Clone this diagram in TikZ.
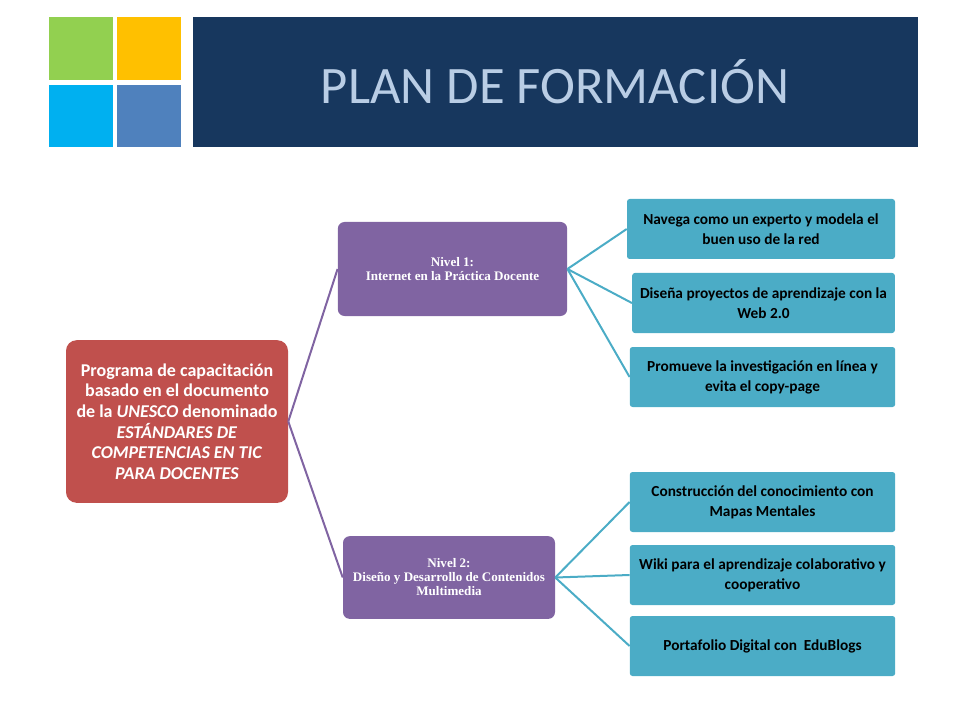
\documentclass[tikz,border=0pt]{standalone}
\usepackage{fontspec}
\setmainfont{Liberation Serif}
\newfontfamily\calib{Carlito}
\newfontfamily\titlefont{Carlito}
\definecolor{navy}{HTML}{17375E}
\definecolor{titletxt}{HTML}{B9CDE5}
\definecolor{redbox}{HTML}{C0504D}
\definecolor{purplebox}{HTML}{8064A2}
\definecolor{bluebox}{HTML}{4BACC6}
\definecolor{sqgreen}{HTML}{92D050}
\definecolor{sqyellow}{HTML}{FFC000}
\definecolor{sqcyan}{HTML}{00B0F0}
\definecolor{sqblue}{HTML}{4F81BD}
\tikzset{
  rootbox/.style={fill=redbox, rounded corners=8pt, text=white, align=center,
    font=\calib\bfseries\fontsize{13.5}{15.5}\selectfont, inner sep=0pt},
  levelbox/.style={fill=purplebox, rounded corners=5pt, text=white, align=center,
    font=\bfseries\fontsize{9.8}{10.5}\selectfont, inner sep=0pt},
  topicbox/.style={fill=bluebox, rounded corners=2pt, text=black, align=center,
    font=\calib\bfseries\fontsize{11.5}{15}\selectfont, inner sep=0pt},
  levelline/.style={draw=purplebox, line width=1.5pt},
  topicline/.style={draw=bluebox, line width=1.5pt},
}
\begin{document}
\begin{tikzpicture}[x=0.75pt,y=-0.75pt]
\useasboundingbox (0,0) rectangle (960,720);
% header
\fill[sqgreen] (49,17) rectangle (113,80);
\fill[sqyellow] (117,17) rectangle (181,80);
\fill[sqcyan] (49,85) rectangle (113,147);
\fill[sqblue] (117,85) rectangle (181,147);
\fill[navy] (193,17) rectangle (918,147);
\node[text=titletxt, font=\titlefont\fontsize{39.5}{44}\selectfont] (title) at (555,82) {PLAN DE FORMACIÓN};

% root
\node[rootbox, minimum width=166.5pt, minimum height=122pt] (root) at (177,421.5)
  {Programa de capacitación\\basado en el documento\\de la \textit{UNESCO} denominado\\\textit{ESTÁNDARES DE}\\\textit{COMPETENCIAS EN TIC}\\\textit{PARA DOCENTES}};

% levels
\node[levelbox, minimum width=172pt, minimum height=70.5pt] (N1) at (452.5,269)
  {Nivel 1:\\Internet en la Práctica Docente};
\node[levelbox, minimum width=159pt, minimum height=62pt] (N2) at (449,577.5)
  {Nivel 2:\\Diseño y Desarrollo de Contenidos\\Multimedia};

% topics
\node[topicbox, minimum width=201pt, minimum height=45pt] (T1) at (761,229) {Navega como un experto y modela el\\buen uso de la red};
\node[topicbox, minimum width=197pt, minimum height=45pt] (T2) at (763.5,303) {Diseña proyectos de aprendizaje con la\\Web 2.0};
\node[topicbox, minimum width=199pt, minimum height=45pt] (T3) at (762.5,377) {Promueve la investigación en línea y\\evita el copy-page};
\node[topicbox, minimum width=199pt, minimum height=45pt] (T4) at (762.5,502) {Construcción del conocimiento con\\Mapas Mentales};
\node[topicbox, minimum width=199pt, minimum height=45pt] (T5) at (762.5,575) {Wiki para el aprendizaje colaborativo y\\cooperativo};
\node[topicbox, minimum width=199pt, minimum height=45pt] (T6) at (762.5,646) {Portafolio Digital con \ EduBlogs};

% connectors
\draw[levelline] (root.east) -- (N1.west);
\draw[levelline] (root.east) -- (N2.west);
\foreach \t in {T1,T2,T3} \draw[topicline] (N1.east) -- (\t.west);
\foreach \t in {T4,T5,T6} \draw[topicline] (N2.east) -- (\t.west);
\end{tikzpicture}
\end{document}
